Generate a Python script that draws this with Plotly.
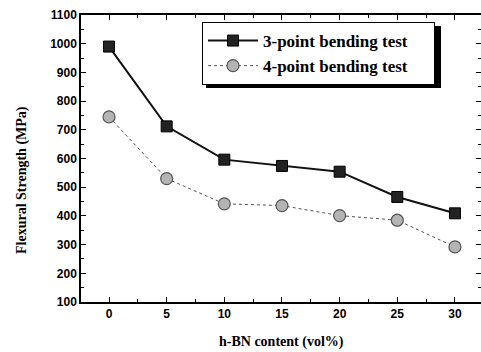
import plotly.graph_objects as go

# h-BN content (vol%)
content = [0, 5, 10, 15, 20, 25, 30]
# Flexural strength (MPa)
three_point = [990, 712, 596, 574, 554, 466, 409]
four_point = [745, 530, 442, 436, 401, 385, 292]

series_names = ["3-point bending test", "4-point bending test"]

x_ticks = [0, 5, 10, 15, 20, 25, 30]
y_ticks = [100, 200, 300, 400, 500, 600, 700, 800, 900, 1000, 1100]

serif = "Liberation Serif"
sans = "Liberation Sans"

# plot-area geometry in pixels
L, R, T, B = 81, 481, 15, 302
W, H = R - L, B - T


def px_x(p):
    return (p - L) / W


def px_y(p):
    return 1 - (p - T) / H


# non-breaking spaces give the legend box its right-hand padding
PAD = "\u00a0" * 5

fig = go.Figure()

fig.add_trace(go.Scatter(
    x=content, y=three_point, mode="lines+markers",
    name=series_names[0] + PAD,
    line=dict(color="#111111", width=2),
    marker=dict(symbol="square", size=11, color="#222222",
                line=dict(color="#000000", width=1)),
))
fig.add_trace(go.Scatter(
    x=content, y=four_point, mode="lines+markers",
    name=series_names[1] + PAD,
    line=dict(color="#555555", width=1, dash="dot"),
    marker=dict(symbol="circle", size=12, color="#b4b4b4",
                line=dict(color="#555555", width=1.2)),
))

axis_common = dict(
    showline=True, linecolor="black", linewidth=1.5, mirror="allticks",
    ticks="inside", ticklen=5, tickwidth=1.3, tickcolor="black",
    showgrid=False, zeroline=False,
    tickfont=dict(family=sans, size=12, color="black", weight="bold"),
)

fig.update_xaxes(
    range=[-2.43, 32.26], tickvals=x_ticks,
    minor=dict(ticks="inside", ticklen=3, dtick=2.5, tick0=0, tickcolor="black"),
    **axis_common,
)
fig.update_yaxes(
    range=[100, 1100], tickvals=y_ticks,
    minor=dict(ticks="inside", ticklen=3, dtick=50, tick0=0, tickcolor="black"),
    **axis_common,
)

title_font = dict(family=serif, size=14, color="black", weight="bold")
fig.add_annotation(text="h-BN content (vol%)", xref="paper", yref="paper",
                   x=px_x(281), y=px_y(342), showarrow=False,
                   xanchor="center", yanchor="middle", font=title_font)
fig.add_annotation(text="Flexural Strength (MPa)", xref="paper", yref="paper",
                   x=px_x(22), y=px_y(180), showarrow=False, textangle=-90,
                   xanchor="center", yanchor="middle", font=title_font)

# drop shadow under the legend box
fig.add_shape(type="rect", xref="paper", yref="paper",
              x0=px_x(206), x1=px_x(441), y0=px_y(88), y1=px_y(26),
              fillcolor="black", line=dict(width=0), layer="below")

fig.update_layout(
    width=481, height=352,
    margin=dict(l=L, r=481 - R, t=T, b=352 - B, autoexpand=False),
    paper_bgcolor="white", plot_bgcolor="white",
    showlegend=True,
    legend=dict(
        x=px_x(202), y=px_y(22),
        xanchor="left", yanchor="top",
        bgcolor="white", bordercolor="black", borderwidth=1,
        font=dict(family=serif, size=17, color="black", weight="bold"),
        itemwidth=50, tracegroupgap=0,
    ),
)

fig.write_html("out.html")
